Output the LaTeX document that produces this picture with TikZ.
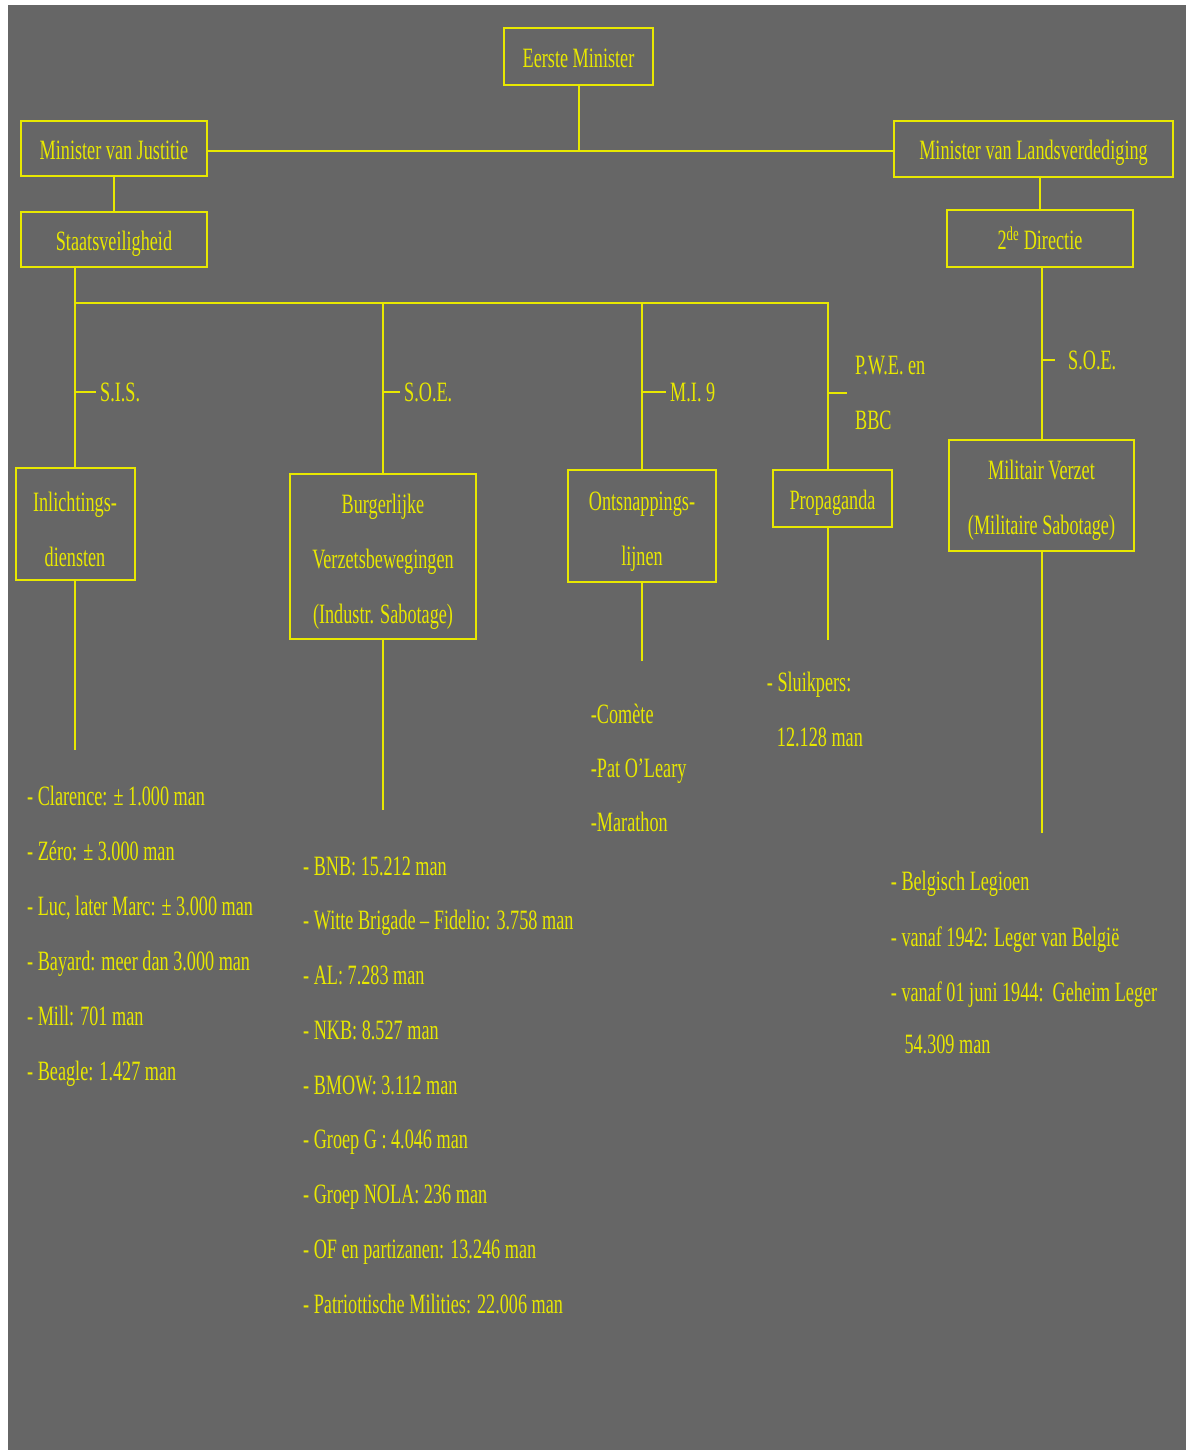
\documentclass[tikz,border=0pt]{standalone}
\usepackage{fontspec}
\setmainfont[FakeStretch=0.65]{Liberation Serif}
\definecolor{bggray}{RGB}{102,102,102}
\definecolor{orgyellow}{RGB}{232,232,0}
\newcommand{\lowtop}{\rule{0pt}{30pt}}

\tikzset{
  orgbox/.style={draw=orgyellow, line width=2pt, text=orgyellow, align=center, inner sep=0pt},
  onebox/.style={orgbox, text height=22pt, text depth=0pt},
  orgline/.style={draw=orgyellow, line width=2pt},
  lbl/.style={text=orgyellow, anchor=west, inner sep=4pt},
  item/.style={text=orgyellow, anchor=base west, inner sep=0pt}
}

\begin{document}
\begin{tikzpicture}[x=1pt, y=-1pt, font=\fontsize{28}{55}\selectfont]
      \useasboundingbox (0,0) rectangle (1186,1450);
      \fill[white] (0,0) rectangle (1186,1450);
      \fill[bggray] (8,5) rectangle (1186,1450);

      % ministers
      \node[onebox, minimum width=149pt, minimum height=57pt] (eerste) at (578.5,56.5) {Eerste Minister};
      \node[onebox, minimum width=186pt, minimum height=55pt] (justitie) at (114,149) {Minister van Justitie};
      \node[onebox, minimum width=279pt, minimum height=56pt] (landsv) at (1033.5,149) {Minister van Landsverdediging};
      \node[onebox, minimum width=186pt, minimum height=55pt] (staats) at (114,239.5) {Staatsveiligheid};
      \node[onebox, minimum width=186pt, minimum height=57pt] (directie) at (1040,238.5) {2\textsuperscript{de} Directie};

      \coordinate (topbar) at (578.5,151);
      \draw[orgline] (justitie.east |- topbar) -- (landsv.west |- topbar);
      \draw[orgline] (eerste) -- (topbar);
      \draw[orgline] (justitie) -- (staats);
      \draw[orgline] (directie) -- (directie |- landsv.south);

      % services
      \node[orgbox, minimum width=119pt, minimum height=112pt] (inlicht) at (75,524) {\lowtop Inlichtings-\\diensten};
      \node[orgbox, minimum width=186pt, minimum height=165pt] (burger) at (383,556.5) {\lowtop Burgerlijke\\Verzetsbewegingen\\(Industr. Sabotage)};
      \node[orgbox, minimum width=148pt, minimum height=112pt] (ontsnap) at (642,526) {\lowtop Ontsnappings-\\lijnen};
      \node[onebox, minimum width=119pt, minimum height=57pt] (propag) at (832.5,498.5) {Propaganda};
      \node[orgbox, minimum width=185pt, minimum height=111pt] (militair) at (1041.5,495.5) {\lowtop Militair Verzet\\(Militaire Sabotage)};

      \coordinate (midbar) at (828,303);
      \draw[orgline] (inlicht) -- (inlicht |- staats.south);
      \draw[orgline] (inlicht |- midbar) -- (midbar) -- (midbar |- propag.north);
      \draw[orgline] (burger) -- (burger |- midbar);
      \draw[orgline] (ontsnap) -- (ontsnap |- midbar);
      \draw[orgline] (militair) -- (militair |- directie.south);

      % labels on the lines
      \node[lbl] (sis) at (96,392) {S.I.S.};
      \draw[orgline] (sis.west -| inlicht) -- (sis.west);
      \node[lbl] (soe) at (400,392) {S.O.E.};
      \draw[orgline] (soe.west -| burger) -- (soe.west);
      \node[lbl] (mi) at (666,392) {M.I. 9};
      \draw[orgline] (mi.west -| ontsnap) -- (mi.west);
      \node[lbl, align=left] (pwe) at (851,393) {P.W.E. en\\BBC};
      \draw[orgline, shorten >=4pt] (pwe.west -| midbar) -- (pwe.west);
      \node[lbl] (soetwo) at (1064,360) {S.O.E.};
      \draw[orgline, shorten >=9pt] (soetwo.west -| militair) -- (soetwo.west);

      % lines down to the lists
      \coordinate (sisend) at (75,750);
      \coordinate (soeend) at (383,810);
      \coordinate (miend) at (642,661);
      \coordinate (pweend) at (828,640);
      \coordinate (milend) at (1041.5,833);
      \draw[orgline] (inlicht) -- (sisend);
      \draw[orgline] (burger) -- (soeend);
      \draw[orgline] (ontsnap) -- (miend);
      \draw[orgline] (midbar |- propag.south) -- (pweend);
      \draw[orgline] (militair) -- (milend);

      % lists
      \node[item] (sisa) at (27,805.5) {- Clarence: ± 1.000 man};
      \node[item] (sisb) at (27,860.5) {- Zéro: ± 3.000 man};
      \node[item] (sisc) at (27,915.5) {- Luc, later Marc: ± 3.000 man};
      \node[item] (sisd) at (27,970.5) {- Bayard: meer dan 3.000 man};
      \node[item] (sise) at (27,1025.5) {- Mill: 701 man};
      \node[item] (sisf) at (27,1080.5) {- Beagle: 1.427 man};

      \node[item] (soea) at (303,875) {- BNB: 15.212 man};
      \node[item] (soeb) at (303,929.75) {- Witte Brigade – Fidelio: 3.758 man};
      \node[item] (soec) at (303,984.5) {- AL: 7.283 man};
      \node[item] (soed) at (303,1039.25) {- NKB: 8.527 man};
      \node[item] (soee) at (303,1094) {- BMOW: 3.112 man};
      \node[item] (soef) at (303,1148.75) {- Groep G : 4.046 man};
      \node[item] (soeg) at (303,1203.5) {- Groep NOLA: 236 man};
      \node[item] (soeh) at (303,1258.25) {- OF en partizanen: 13.246 man};
      \node[item] (soei) at (303,1313) {- Patriottische Milities: 22.006 man};

      \node[item] (mia) at (590.7,723) {-Comète};
      \node[item] (mib) at (590.7,777) {-Pat O’Leary};
      \node[item] (mic) at (590.7,831.5) {-Marathon};

      \node[item] (pwea) at (766.7,691.7) {- Sluikpers:};
      \node[item] (pweb) at (776.7,746) {12.128 man};

      \node[item] (mila) at (890.7,890.7) {- Belgisch Legioen};
      \node[item] (milb) at (890.7,946) {- vanaf 1942: Leger van België};
      \node[item] (milc) at (890.7,1001) {- vanaf 01 juni 1944:\ \ Geheim Leger};
      \node[item] (mild) at (904.3,1053.3) {54.309 man};
\end{tikzpicture}
\end{document}
